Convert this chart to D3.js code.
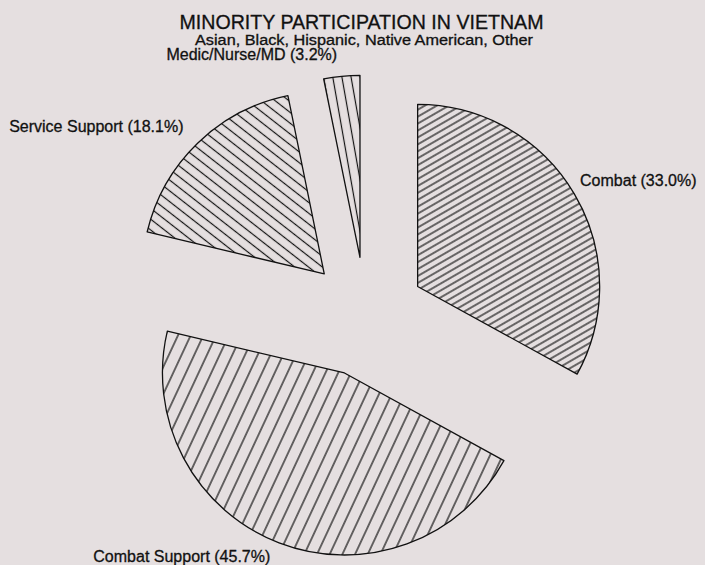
<!DOCTYPE html>
<html>
<head>
<meta charset="utf-8">
<script src="https://cdn.jsdelivr.net/npm/d3@7"></script>
<style>
  html, body { margin: 0; padding: 0; background: #e5dfe0; }
  svg { display: block; }
  text { font-family: "Liberation Sans", Arial, Helvetica, sans-serif; fill: #111; stroke: #111; stroke-width: 0.3px; }
</style>
</head>
<body>
<svg id="chart" width="705" height="565"></svg>
<script>
const categories = ["Combat", "Combat Support", "Service Support", "Medic/Nurse/MD"];
const percents = [33.0, 45.7, 18.1, 3.2];
const labels = ["Combat (33.0%)", "Combat Support (45.7%)", "Service Support (18.1%)", "Medic/Nurse/MD (3.2%)"];
const title = "MINORITY PARTICIPATION IN VIETNAM";
const subtitle = "Asian, Black, Hispanic, Native American, Other";

// hatch styles per slice: angle (deg, from horizontal, clockwise in screen), spacing
const hatchAngles = [-30, -65, 38, 80];
const hatchSpacing = [6, 11.5, 8.5, 9];

const W = 705, H = 565;
const cx = 366, cy = 317, R = 182, explode = 60;

const svg = d3.select("#chart");
svg.append("rect").attr("width", W).attr("height", H).attr("fill", "#e5dfe0");

const defs = svg.append("defs");
categories.forEach((c, i) => {
  const s = hatchSpacing[i];
  const p = defs.append("pattern")
    .attr("id", "hatch" + i)
    .attr("patternUnits", "userSpaceOnUse")
    .attr("width", 20).attr("height", s)
    .attr("patternTransform", `rotate(${hatchAngles[i]})`);
  p.append("line")
    .attr("x1", -1).attr("x2", 21)
    .attr("y1", s / 2).attr("y2", s / 2)
    .attr("stroke", "#111").attr("stroke-width", 1.2);
});

const pie = d3.pie().sort(null).value(d => d).startAngle(0).endAngle(2 * Math.PI);
const arcs = pie(percents);
const arc = d3.arc().innerRadius(0).outerRadius(R);

const g = svg.append("g").attr("transform", `translate(${cx},${cy})`);

g.selectAll("path.slice")
  .data(arcs)
  .join("path")
  .attr("class", "slice")
  .attr("transform", d => {
    const a = (d.startAngle + d.endAngle) / 2;
    return `translate(${explode * Math.sin(a)},${-explode * Math.cos(a)})`;
  })
  .attr("d", arc)
  .attr("fill", (d, i) => `url(#hatch${i})`)
  .attr("stroke", "#111")
  .attr("stroke-width", 1.3)
  .attr("stroke-linejoin", "round");

// labels
const labelR = 258;
const mid = d => (d.startAngle + d.endAngle) / 2;
g.selectAll("text.label")
  .data(arcs)
  .join("text")
  .attr("class", "label")
  .attr("x", d => labelR * Math.sin(mid(d)) + (Math.sin(mid(d)) > 0 ? -8 : -3))
  .attr("y", d => -labelR * Math.cos(mid(d)) + (Math.cos(mid(d)) < 0 ? 4 : 0))
  .attr("text-anchor", d => Math.sin(mid(d)) > 0 ? "start" : "end")
  .attr("font-size", 16)
  .text((d, i) => labels[i]);

svg.append("text")
  .attr("x", 361.5).attr("y", 29)
  .attr("text-anchor", "middle")
  .attr("font-size", 19.6)
  .text(title);

svg.append("text")
  .attr("x", 364).attr("y", 45)
  .attr("text-anchor", "middle")
  .attr("font-size", 14)
  .attr("textLength", 338)
  .attr("lengthAdjust", "spacingAndGlyphs")
  .text(subtitle);
</script>
</body>
</html>
